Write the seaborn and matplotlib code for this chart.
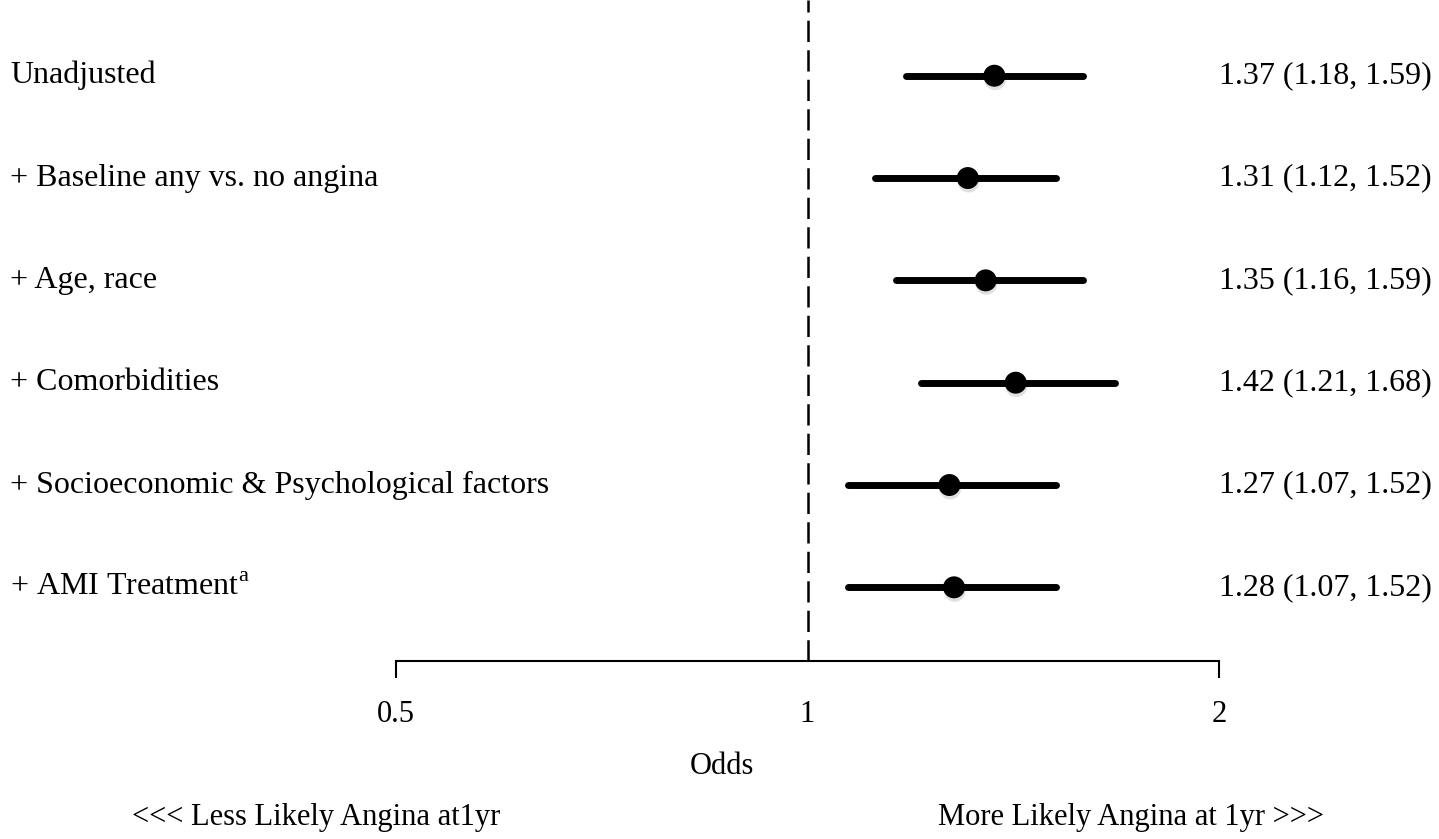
import numpy as np
import pandas as pd
import matplotlib
matplotlib.use("Agg")
import matplotlib.pyplot as plt
import matplotlib.patheffects as pe
import matplotlib.transforms as mtrans
import seaborn as sns

labels = [
    "Unadjusted",
    "+ Baseline any vs. no angina",
    "+ Age, race",
    "+ Comorbidities",
    "+ Socioeconomic & Psychological factors",
    "+ AMI Treatment$^{\\mathrm{a}}$",
]
odds = [1.37, 1.31, 1.35, 1.42, 1.27, 1.28]
lower = [1.18, 1.12, 1.16, 1.21, 1.07, 1.07]
upper = [1.59, 1.52, 1.59, 1.68, 1.52, 1.52]
xticks = [0.5, 1, 2]
xticklabels = ["0.5", "1", "2"]

sns.set_theme(style="white")
plt.rcParams["font.family"] = ["Liberation Serif", "DejaVu Serif"]
plt.rcParams["mathtext.fontset"] = "custom"
plt.rcParams["mathtext.rm"] = "Liberation Serif"
plt.rcParams["text.color"] = "black"

FS = 23
FS_SMALL = 22

df = pd.DataFrame({"row": np.arange(len(labels)), "label": labels,
                   "odds": odds, "lower": lower, "upper": upper})

fig = plt.figure(figsize=(14.39, 8.39), dpi=100)
ax = fig.add_axes([396 / 1439, 178 / 839, 823 / 1439, 661 / 839])

# confidence intervals
ax.hlines(df["row"], df["lower"], df["upper"], color="black", lw=5,
          capstyle="round", zorder=2)
sns.scatterplot(data=df, x="odds", y="row", ax=ax, color="black", s=250,
                edgecolor="none", zorder=3, legend=False,
                path_effects=[pe.SimplePatchShadow(offset=(0.5, -2.5), alpha=0.12,
                                                   shadow_rgbFace="black"),
                              pe.Normal()])

ax.axvline(1, color="black", lw=1.8, ls=(0, (8.5, 3.3)), zorder=1)

ax.set_xscale("log")
ax.set_xlim(0.5, 2)
ax.set_ylim(5.72, -0.74)
ax.set_xticks(xticks)
ax.set_xticklabels(xticklabels, fontsize=FS_SMALL)
ax.xaxis.set_minor_locator(matplotlib.ticker.NullLocator())
ax.tick_params(axis="x", direction="out", length=12, width=1.5, pad=16,
               bottom=True, colors="black")
ax.xaxis.get_major_ticks()[1].tick1line.set_visible(False)
ax.set_yticks([])
ax.set_xlabel("")
ax.set_ylabel("")
for side in ["top", "left", "right"]:
    ax.spines[side].set_visible(False)
ax.spines["bottom"].set_linewidth(1.5)
ax.spines["bottom"].set_color("black")
ax.patch.set_alpha(0)

# row labels and estimates
row_trans = mtrans.blended_transform_factory(fig.transFigure, ax.transData)
for i, row in df.iterrows():
    ax.text(10 / 1439, row["row"], row["label"], transform=row_trans,
            ha="left", va="center", fontsize=FS)
    ax.text(1432 / 1439, row["row"],
            f"{row['odds']:.2f} ({row['lower']:.2f}, {row['upper']:.2f})",
            transform=row_trans, ha="right", va="center", fontsize=FS)

fig.text(722 / 1439, 1 - 767 / 839, "Odds", ha="center", va="center", fontsize=FS_SMALL)
fig.text(132 / 1439, 1 - 817 / 839, "<<< Less Likely Angina at1yr",
         ha="left", va="center", fontsize=FS_SMALL)
fig.text(938 / 1439, 1 - 817 / 839, "More Likely Angina at 1yr >>>",
         ha="left", va="center", fontsize=FS_SMALL)

fig.savefig("out.png", dpi=100, facecolor="white")
